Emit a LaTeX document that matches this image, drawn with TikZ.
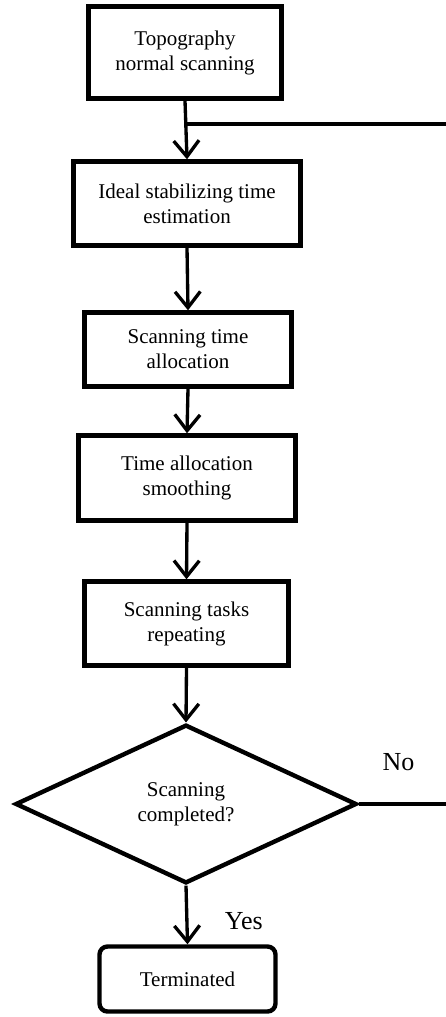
\documentclass[tikz,border=0pt]{standalone}
\usepackage{fontspec}
\setmainfont{Liberation Serif}
\usetikzlibrary{shapes.geometric,arrows.meta}

\begin{document}
\begin{tikzpicture}[x=0.75pt,y=-0.75pt,
		procbox/.style={draw,line width=3.3pt,align=center,inner sep=0pt,
			font=\fontsize{15.75}{18.75}\selectfont},
		flow/.style={line width=2.5pt,-{Straight Barb[length=12pt,width=19pt]}}]
			\tikzset{decision/.style={procbox,diamond,minimum width=256pt,minimum height=119pt}}
			\tikzset{answer/.style={font=\fontsize{19.5}{22}\selectfont}}
			\useasboundingbox (0,0) rectangle (446,1017);
			\node[procbox,minimum width=144.75pt,minimum height=69pt] (topo) at (185,52.5) {Topography\\normal scanning};
			\node[procbox,minimum width=170.25pt,minimum height=63pt] (ideal) at (187,203.5) {Ideal stabilizing time\\estimation};
			\node[procbox,minimum width=155.25pt,minimum height=55.5pt] (alloc) at (188,349.5) {Scanning time\\allocation};
			\node[procbox,minimum width=162.75pt,minimum height=63.75pt] (smooth) at (187,478) {Time allocation\\smoothing};
			\node[procbox,minimum width=153pt,minimum height=63pt] (repeat) at (186.5,623.5) {Scanning tasks\\repeating};
			\node[decision] (done) at (186,804) {Scanning\\completed?};
			\node[procbox,rounded corners=6pt,minimum width=132pt,minimum height=48.75pt] (term) at (187.5,979) {Terminated};
			\coordinate (back) at (446,124);
			\coordinate (noend) at (446,804);
%			flow
			\draw[flow] (topo.south) -- (ideal.north);
			\draw[flow] (ideal.south) -- (alloc.north);
			\draw[flow] (alloc.south) -- (smooth.north);
			\draw[flow] (smooth.south) -- (repeat.north);
			\draw[flow] (repeat.south) -- (done.north);
			\draw[flow] (done.south) -- node[answer,right,xshift=24pt,yshift=-5pt] (yes) {Yes} (term.north);
			\draw[line width=2.5pt] (topo.south |- back) -- (back);
			\draw[line width=2.5pt] (done.east) -- node[answer,above,xshift=-3pt,yshift=20pt] (no) {No} (noend);
		\end{tikzpicture}
\end{document}
